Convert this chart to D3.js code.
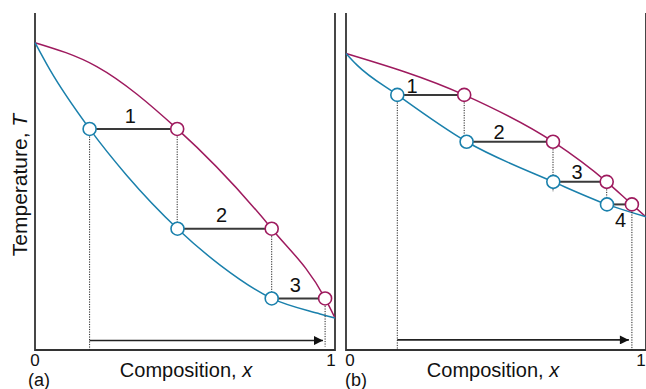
<!DOCTYPE html>
<html><head><meta charset="utf-8">
<script src="https://cdn.jsdelivr.net/npm/d3@7"></script>
<style>body{margin:0;background:#fff}svg{display:block}</style>
</head><body><svg id="c" width="646" height="389"></svg>
<script>
// ---- data (composition x, temperature T in arbitrary units 0..100) ----
const vaporA  = [[0,91.2],[0.206,84.1],[0.474,65.6],[0.789,36.0],[0.967,15.3],[1,9.5]];
const liquidA = [[0,91.2],[0.05,83.1],[0.182,65.6],[0.306,51.8],[0.475,36.0],[0.617,25.2],[0.789,15.3],[0.95,10.7],[1,9.5]];
const tieA_T   = [65.6, 36.0, 15.3];
const tieA_liq = [0.182, 0.475, 0.789];
const tieA_vap = [0.474, 0.789, 0.967];
const tieA_lab = ["1","2","3"];
const dropsA   = [[0.182,65.6,0],[0.474,65.6,36.0],[0.789,36.0,15.3],[0.967,15.3,1]];
const arrowA   = [0.182, 0.96, 2.8];

const vaporB  = [[0,88.0],[0.394,75.7],[0.69,61.8],[0.869,49.9],[0.953,43.2],[1,39.5]];
const liquidB = [[0,88.0],[0.036,84.6],[0.171,75.7],[0.402,61.8],[0.691,49.9],[0.87,43.2],[1,39.5]];
const tieB_T   = [75.7, 61.8, 49.9, 43.2];
const tieB_liq = [0.171, 0.402, 0.691, 0.87];
const tieB_vap = [0.394, 0.69, 0.869, 0.953];
const tieB_lab = ["1","2","3","4"];
const dropsB   = [[0.171,75.7,0],[0.394,75.7,61.8],[0.69,61.8,46.9],[0.869,49.9,43.2],[0.953,43.2,0]];
const arrowB   = [0.171, 0.943, 3.0];

const xTicks = ["0","1"];
const panelLabels = ["(a)","(b)"];
const xTitle = "Composition, ";
const yTitle = "Temperature, ";

// ---- layout ----
const svg = d3.select("#c");
const RED = "#9e1a5e", BLUE = "#1a80ac", AX = "#333";
const FONT = "'Liberation Sans', Arial, sans-serif";
const y = d3.scaleLinear().domain([0,100]).range([350,13]);

svg.append("defs").append("marker").attr("id","ah")
  .attr("viewBox","0 0 10 10").attr("refX",10).attr("refY",5)
  .attr("markerWidth",12).attr("markerHeight",9).attr("markerUnits","userSpaceOnUse")
  .attr("orient","auto")
  .append("path").attr("d","M0,0L10,5L0,10z").attr("fill","#111");

function panel(cfg){
  const x = d3.scaleLinear().domain([0,1]).range(cfg.range);
  const g = svg.append("g");
  const line = d3.line().x(d=>x(d[0])).y(d=>y(d[1])).curve(d3.curveMonotoneX);
  // frame
  g.append("path").attr("d",`M${x(0)},${y(100)}V${y(0)}H${x(1)}V${y(100)}`)
    .attr("fill","none").attr("stroke",AX).attr("stroke-width",1.8);
  // curves
  g.append("path").attr("d",line(cfg.vap)).attr("fill","none").attr("stroke",RED).attr("stroke-width",1.5);
  g.append("path").attr("d",line(cfg.liq)).attr("fill","none").attr("stroke",BLUE).attr("stroke-width",1.5);
  // dotted drops
  g.selectAll(".drop").data(cfg.drops).join("line")
    .attr("x1",d=>x(d[0])).attr("x2",d=>x(d[0])).attr("y1",d=>y(d[1])).attr("y2",d=>y(d[2]))
    .attr("stroke","#222").attr("stroke-width",1).attr("stroke-dasharray","1.2,1.3");
  // arrow
  g.append("line").attr("x1",x(cfg.arrow[0])).attr("x2",x(cfg.arrow[1]))
    .attr("y1",y(cfg.arrow[2])).attr("y2",y(cfg.arrow[2]))
    .attr("stroke","#222").attr("stroke-width",1.6).attr("marker-end","url(#ah)");
  // tie lines
  g.selectAll(".tie").data(cfg.T).join("line")
    .attr("x1",(d,i)=>x(cfg.tl[i])).attr("x2",(d,i)=>x(cfg.tv[i]))
    .attr("y1",d=>y(d)).attr("y2",d=>y(d))
    .attr("stroke","#3a3a3a").attr("stroke-width",2);
  // circles
  g.selectAll(".cl").data(cfg.T).join("circle")
    .attr("cx",(d,i)=>x(cfg.tl[i])).attr("cy",d=>y(d)).attr("r",6.5)
    .attr("fill","#fff").attr("stroke",BLUE).attr("stroke-width",1.6);
  g.selectAll(".cv").data(cfg.T).join("circle")
    .attr("cx",(d,i)=>x(cfg.tv[i])).attr("cy",d=>y(d)).attr("r",6.5)
    .attr("fill","#fff").attr("stroke",RED).attr("stroke-width",1.6);
  // tie labels
  g.selectAll(".lab").data(cfg.lab).join("text")
    .attr("x",(d,i)=>x(cfg.labPos[i][0])).attr("y",(d,i)=>y(cfg.labPos[i][1]))
    .attr("text-anchor","middle").attr("font-family",FONT).attr("font-size",20).attr("fill","#111")
    .text(d=>d);
  // tick labels
  g.selectAll(".tk").data(xTicks).join("text")
    .attr("x",(d,i)=>x(+d)+cfg.tickDx[i]).attr("y",366)
    .attr("text-anchor","middle").attr("font-family",FONT).attr("font-size",17).attr("fill","#111")
    .text(d=>d);
  // panel label
  g.append("text").attr("x",x(0)+cfg.pdx).attr("y",386).attr("text-anchor","middle")
    .attr("font-family",FONT).attr("font-size",18).attr("fill","#111").text(cfg.plabel);
  // x title
  const t = g.append("text").attr("x",x(0.5)+cfg.tdx).attr("y",377).attr("text-anchor","middle")
    .attr("font-family",FONT).attr("font-size",20).attr("fill","#111");
  t.append("tspan").text(xTitle);
  t.append("tspan").attr("font-style","italic").text("x");
}

// label positions (x, T)
const labPosA = tieA_T.map((T,i)=>[(tieA_liq[i]+tieA_vap[i])/2 - 0.01, T+1.9]);
const labPosB = [[0.22,76.3],[0.51,62.6],[0.77,50.6],[0.915,36.5]];

panel({range:[35,335], vap:vaporA, liq:liquidA, T:tieA_T, tl:tieA_liq, tv:tieA_vap,
  lab:tieA_lab, labPos:labPosA, drops:dropsA, arrow:arrowA, tickDx:[0,-4], pdx:4,
  plabel:panelLabels[0], tdx:1});
panel({range:[346,646], vap:vaporB, liq:liquidB, T:tieB_T, tl:tieB_liq, tv:tieB_vap,
  lab:tieB_lab, labPos:labPosB, drops:dropsB, arrow:arrowB, tickDx:[4,-5], pdx:10,
  plabel:panelLabels[1], tdx:-3});

// y title
const yt = svg.append("text").attr("transform","translate(27,185) rotate(-90)")
  .attr("text-anchor","middle").attr("font-family",FONT).attr("font-size",21).attr("fill","#111");
yt.append("tspan").text(yTitle);
yt.append("tspan").attr("font-style","italic").text("T");
</script></body></html>
